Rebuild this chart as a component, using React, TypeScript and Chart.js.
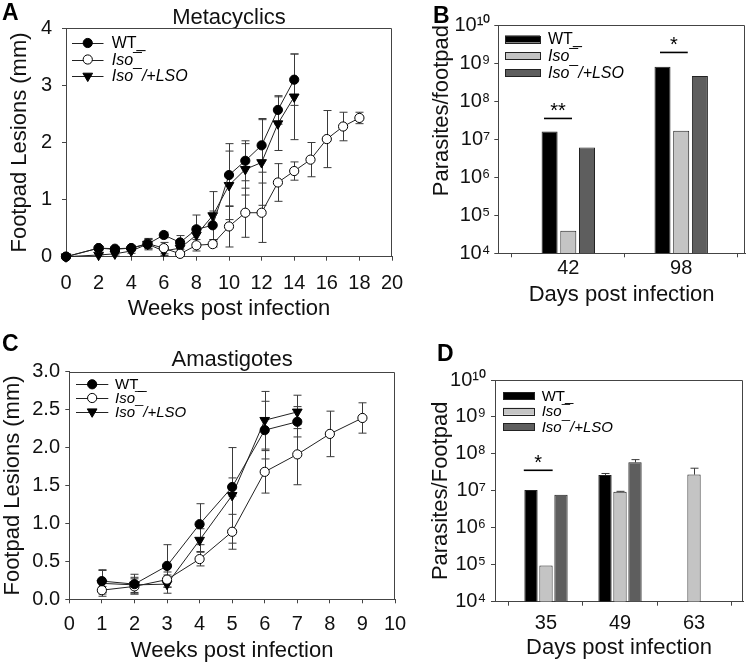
import React, { useEffect, useRef } from 'react';
import { Chart, registerables } from 'chart.js';

Chart.register(...registerables);

const FONT = "'Liberation Sans', Arial, Helvetica, sans-serif";

// ---------- Series labels ----------
const SERIES = ['WT_', 'Iso\u00AF', 'Iso\u00AF/+LSO'];

// ---------- Panel A: Metacyclics (footpad lesions, mm) ----------
const A_TITLE = 'Metacyclics';
const A_X_TITLE = 'Weeks post infection';
const A_Y_TITLE = 'Footpad Lesions (mm)';
const A_WT_WEEKS = [0, 2, 3, 4, 5, 6, 7, 8, 9, 10, 11, 12, 13, 14];
const A_WT_MEAN = [0, 0.15, 0.13, 0.15, 0.22, 0.38, 0.25, 0.48, 0.55, 1.43, 1.68, 1.95, 2.57, 3.1];
const A_WT_ERR = [0, 0.03, 0.03, 0.05, 0.1, 0.05, 0.12, 0.25, 0.25, 0.55, 0.35, 0.47, 0.25, 0.45];
const A_ISO_WEEKS = [0, 2, 3, 4, 5, 6, 7, 8, 9, 10, 11, 12, 13, 14, 15, 16, 17, 18];
const A_ISO_MEAN = [0, 0.15, 0.14, 0.15, 0.23, 0.15, 0.05, 0.2, 0.22, 0.53, 0.77, 0.77, 1.3, 1.5, 1.7, 2.06, 2.28, 2.43];
const A_ISO_ERR = [0, 0.03, 0.03, 0.03, 0.08, 0.1, 0.03, 0.1, 0.05, 0.36, 0.43, 0.52, 0.33, 0.16, 0.3, 0.5, 0.25, 0.1];
const A_LSO_WEEKS = [0, 2, 3, 4, 5, 6, 7, 8, 9, 10, 11, 12, 13, 14];
const A_LSO_MEAN = [0, 0.03, 0.05, 0.1, 0.22, 0.1, 0.15, 0.38, 0.72, 1.25, 1.53, 1.65, 2.33, 2.8];
const A_LSO_ERR = [0, 0.02, 0.02, 0.04, 0.08, 0.08, 0.08, 0.15, 0.42, 0.6, 0.45, 0.75, 0.47, 0.75];

// ---------- Panel B: parasites / footpad (metacyclics) ----------
const B_Y_TITLE = 'Parasites/footpad';
const B_X_TITLE = 'Days post infection';
const B_DAYS = ['42', '98'];
const B_WT = [1.6e7, 8e8];
const B_ISO = [3.9e4, 1.65e7];
const B_LSO = [6e6, 4.6e8];
const B_SIG_LABEL = ['**', '*'];
const B_SIG_FROM = [-0.215, 0.812];
const B_SIG_TO = [0.033, 1.058];
const B_SIG_LEVEL = [3.5e7, 1.9e9];

// ---------- Panel C: Amastigotes ----------
const C_TITLE = 'Amastigotes';
const C_X_TITLE = 'Weeks post infection';
const C_Y_TITLE = 'Footpad Lesions (mm)';
const C_WT_WEEKS = [1, 2, 3, 4, 5, 6, 7];
const C_WT_MEAN = [0.24, 0.2, 0.44, 0.99, 1.48, 2.23, 2.34];
const C_WT_ERR = [0.15, 0.13, 0.28, 0.27, 0.12, 0.38, 0.2];
const C_ISO_WEEKS = [1, 2, 3, 4, 5, 6, 7, 8, 9];
const C_ISO_MEAN = [0.12, 0.17, 0.26, 0.53, 0.89, 1.68, 1.91, 2.18, 2.39];
const C_ISO_ERR = [0.05, 0.1, 0.1, 0.09, 0.23, 0.28, 0.4, 0.3, 0.2];
const C_LSO_WEEKS = [1, 2, 3, 4, 5, 6, 7];
const C_LSO_MEAN = [0.21, 0.19, 0.2, 0.78, 1.37, 2.36, 2.47];
const C_LSO_ERR = [0.17, 0.1, 0.12, 0.15, 0.63, 0.38, 0.22];

// ---------- Panel D: parasites / footpad (amastigotes) ----------
const D_Y_TITLE = 'Parasites/Footpad';
const D_X_TITLE = 'Days post infection';
const D_DAYS = ['35', '49', '63'];
const D_WT = [1.05e7, 2.7e7, null];
const D_WT_ERR = [0, 2.5e6, 0];
const D_ISO = [9.6e4, 9.5e6, 2.75e7];
const D_ISO_ERR = [0, 2e5, 1.35e7];
const D_LSO = [7.9e6, 5.9e7, null];
const D_LSO_ERR = [0, 1.1e7, 0];
const D_SIG_LABEL = ['*'];
const D_SIG_FROM = [-0.3];
const D_SIG_TO = [0.09];
const D_SIG_LEVEL = [3.6e7];

const LOG_TICKS = [1e4, 1e5, 1e6, 1e7, 1e8, 1e9, 1e10];

// ---------- styles ----------
const AXIS_COLOR = '#444';
const TEXT_COLOR = '#111';
const BAR_COLORS = ['#000000', '#c4c4c4', '#5e5e5e'];
const MARKERS = [
  { style: 'circle', fill: '#000', radius: 4.6, rotation: 0 },
  { style: 'circle', fill: '#fff', radius: 4.6, rotation: 0 },
  { style: 'triangle', fill: '#000', radius: 5.6, rotation: 180 },
];

const SUP: Record<string, string> = {
  '0': '\u2070', '1': '\u00B9', '2': '\u00B2', '3': '\u00B3', '4': '\u2074',
  '5': '\u2075', '6': '\u2076', '7': '\u2077', '8': '\u2078', '9': '\u2079',
};
const pow10Label = (v: number) =>
  '10' + String(Math.round(Math.log10(v))).split('').map((c) => SUP[c]).join('');

// ---------- drawing helpers ----------
function drawMarker(ctx: CanvasRenderingContext2D, m: any, x: number, y: number) {
  ctx.save();
  ctx.lineWidth = 1;
  ctx.strokeStyle = '#000';
  ctx.fillStyle = m.fill;
  ctx.beginPath();
  if (m.style === 'circle') {
    ctx.arc(x, y, m.radius, 0, Math.PI * 2);
  } else {
    let rad = Math.PI;
    const r = m.radius;
    ctx.moveTo(x + Math.sin(rad) * r, y - Math.cos(rad) * r);
    rad += (2 * Math.PI) / 3;
    ctx.lineTo(x + Math.sin(rad) * r, y - Math.cos(rad) * r);
    rad += (2 * Math.PI) / 3;
    ctx.lineTo(x + Math.sin(rad) * r, y - Math.cos(rad) * r);
    ctx.closePath();
  }
  ctx.fill();
  ctx.stroke();
  ctx.restore();
}

type Deco = {
  legend: {
    kind: 'line' | 'box';
    dx0: number; dx1: number; textDx: number; dy0: number; step: number;
    boxH?: number; font: number;
  };
  upOnly?: boolean;
  sig?: { label: string[]; from: number[]; to: number[]; level: number[] };
};

function decoPlugin(d: Deco) {
  return {
    id: 'deco',
    beforeDatasetsDraw(chart: any) {
      const ctx = chart.ctx as CanvasRenderingContext2D;
      const ys = chart.scales.y;
      const area = chart.chartArea;
      ctx.save();
      ctx.beginPath();
      ctx.rect(area.left, area.top - 1, area.right - area.left, area.bottom - area.top + 1);
      ctx.clip();
      ctx.strokeStyle = '#3a3a3a';
      ctx.lineWidth = 1;
      chart.data.datasets.forEach((ds: any, di: number) => {
        const errs = ds.errors;
        if (!errs) return;
        const meta = chart.getDatasetMeta(di);
        meta.data.forEach((el: any, i: number) => {
          const raw = ds.data[i];
          const v = raw && typeof raw === 'object' ? raw.y : raw;
          const e = errs[i];
          if (v == null || !e) return;
          const x = Math.round(el.x) + 0.5;
          const yt = ys.getPixelForValue(v + e);
          const yb = d.upOnly ? ys.getPixelForValue(v) : ys.getPixelForValue(Math.max(v - e, 0));
          const cap = 4;
          ctx.beginPath();
          ctx.moveTo(x, yt);
          ctx.lineTo(x, yb);
          ctx.moveTo(x - cap, yt);
          ctx.lineTo(x + cap, yt);
          if (!d.upOnly) {
            ctx.moveTo(x - cap, yb);
            ctx.lineTo(x + cap, yb);
          }
          ctx.stroke();
        });
      });
      ctx.restore();
    },
    afterDraw(chart: any) {
      const ctx = chart.ctx as CanvasRenderingContext2D;
      const a = chart.chartArea;
      // frame (top and right sides)
      ctx.save();
      ctx.strokeStyle = AXIS_COLOR;
      ctx.lineWidth = 1;
      const t = Math.round(a.top) + 0.5;
      const r = Math.round(a.right) - 0.5;
      ctx.beginPath();
      ctx.moveTo(a.left, t);
      ctx.lineTo(r, t);
      ctx.lineTo(r, a.bottom);
      ctx.stroke();
      ctx.restore();

      // legend
      const L = d.legend;
      chart.data.datasets.forEach((ds: any, i: number) => {
        const y = a.top + L.dy0 + i * L.step;
        ctx.save();
        if (L.kind === 'line') {
          ctx.strokeStyle = '#222';
          ctx.lineWidth = 1;
          ctx.beginPath();
          ctx.moveTo(a.left + L.dx0, Math.round(y) + 0.5);
          ctx.lineTo(a.left + L.dx1, Math.round(y) + 0.5);
          ctx.stroke();
          drawMarker(ctx, MARKERS[i], a.left + (L.dx0 + L.dx1) / 2, y);
        } else {
          const h = L.boxH || 7;
          ctx.fillStyle = ds.backgroundColor;
          ctx.strokeStyle = '#222';
          ctx.lineWidth = 1;
          ctx.fillRect(a.left + L.dx0, y - h / 2, L.dx1 - L.dx0, h);
          ctx.strokeRect(Math.round(a.left + L.dx0) + 0.5, Math.round(y - h / 2) + 0.5, Math.round(L.dx1 - L.dx0), Math.round(h));
        }
        ctx.fillStyle = '#000';
        ctx.textBaseline = 'middle';
        ctx.textAlign = 'left';
        ctx.font = `${i > 0 ? 'italic ' : ''}${L.font}px ${FONT}`;
        ctx.fillText(ds.label, a.left + L.textDx, y + 1);
        ctx.restore();
      });

      // significance brackets
      if (d.sig) {
        const xs = chart.scales.x;
        const ys = chart.scales.y;
        d.sig.label.forEach((lab, i) => {
          const x0 = xs.getPixelForValue(d.sig!.from[i]);
          const x1 = xs.getPixelForValue(d.sig!.to[i]);
          const y = ys.getPixelForValue(d.sig!.level[i]);
          ctx.save();
          ctx.strokeStyle = '#000';
          ctx.lineWidth = 1.6;
          ctx.beginPath();
          ctx.moveTo(x0, y);
          ctx.lineTo(x1, y);
          ctx.stroke();
          ctx.fillStyle = '#000';
          ctx.font = `20px ${FONT}`;
          ctx.textAlign = 'center';
          ctx.textBaseline = 'alphabetic';
          ctx.fillText(lab, (x0 + x1) / 2, y - 1.5);
          ctx.restore();
        });
      }
    },
  };
}

function tickFont() {
  return { family: FONT, size: 20, weight: 'normal' };
}
function titleFont() {
  return { family: FONT, size: 22, weight: 'normal' };
}

function lineDataset(i: number, xs: number[], ys: number[], errs: number[]) {
  const m = MARKERS[i];
  return {
    label: SERIES[i],
    data: xs.map((x, k) => ({ x, y: ys[k] })),
    errors: errs,
    borderColor: '#222',
    borderWidth: 1,
    pointStyle: m.style,
    pointRotation: m.rotation,
    pointRadius: m.radius,
    pointBackgroundColor: m.fill,
    pointBorderColor: '#000',
    pointBorderWidth: 1,
    fill: false,
    tension: 0,
    clip: false,
  };
}

function barDataset(i: number, vals: (number | null)[], errs?: number[]) {
  return {
    label: SERIES[i],
    data: vals.map((y, k) => ({ x: k, y })),
    errors: errs,
    backgroundColor: BAR_COLORS[i],
    borderColor: '#222',
    borderWidth: 1,
    borderSkipped: 'bottom',
  };
}

function fixW(w: number) {
  return (s: any) => {
    s.width = w;
  };
}
function fixH(h: number) {
  return (s: any) => {
    s.height = h;
  };
}

type LineOpts = {
  title: string; xTitle: string; yTitle: string;
  titlePad: { top: number; bottom: number };
  padLeft: number; padRight: number; yWidth: number; xHeight: number;
  xMax: number; xStep: number; yMax: number; yStep: number; yDecimals: number;
  xTickPad: number; yTickPad: number;
  legend: Deco['legend'];
  datasets: any[];
};

function lineConfig(o: LineOpts): any {
  return {
    type: 'line',
    data: { datasets: o.datasets },
    plugins: [decoPlugin({ legend: o.legend })],
    options: {
      animation: false,
      responsive: false,
      events: [],
      layout: { padding: { left: o.padLeft, right: o.padRight, top: 0, bottom: 0 } },
      plugins: {
        legend: { display: false },
        tooltip: { enabled: false },
        title: {
          display: true, text: o.title, font: titleFont(), color: TEXT_COLOR,
          padding: o.titlePad, fullSize: false,
        },
      },
      scales: {
        x: {
          type: 'linear', min: 0, max: o.xMax,
          afterFit: fixH(o.xHeight),
          border: { display: true, color: AXIS_COLOR, width: 1 },
          grid: { display: true, drawOnChartArea: false, drawTicks: true, tickLength: 4, color: AXIS_COLOR },
          ticks: { stepSize: o.xStep, font: tickFont(), color: TEXT_COLOR, padding: o.xTickPad, maxRotation: 0, autoSkip: false },
          title: { display: true, text: o.xTitle, font: titleFont(), color: TEXT_COLOR, padding: 0 },
        },
        y: {
          type: 'linear', min: 0, max: o.yMax,
          afterFit: fixW(o.yWidth),
          border: { display: true, color: AXIS_COLOR, width: 1 },
          grid: { display: true, drawOnChartArea: false, drawTicks: true, tickLength: 4, color: AXIS_COLOR },
          ticks: {
            stepSize: o.yStep, font: tickFont(), color: TEXT_COLOR, padding: o.yTickPad,
            callback: (v: number) => v.toFixed(o.yDecimals),
          },
          title: { display: true, text: o.yTitle, font: titleFont(), color: TEXT_COLOR, padding: 0 },
        },
      },
    },
  };
}

type BarOpts = {
  xTitle: string; yTitle: string; yTitleAlign: string;
  cats: string[]; xMin: number; xMax: number;
  padLeft: number; padRight: number; padTop: number; yWidth: number; xHeight: number;
  catPct: number; barPct: number;
  xTickPad: number; yTickPad: number;
  legend: Deco['legend'];
  sig: Deco['sig'];
  upOnly: boolean;
  datasets: any[];
};

function barConfig(o: BarOpts): any {
  return {
    type: 'bar',
    data: { datasets: o.datasets },
    plugins: [decoPlugin({ legend: o.legend, sig: o.sig, upOnly: o.upOnly })],
    options: {
      animation: false,
      responsive: false,
      events: [],
      categoryPercentage: o.catPct,
      barPercentage: o.barPct,
      layout: { padding: { left: o.padLeft, right: o.padRight, top: o.padTop, bottom: 0 } },
      plugins: { legend: { display: false }, tooltip: { enabled: false }, title: { display: false } },
      scales: {
        x: {
          type: 'linear', min: o.xMin, max: o.xMax, offset: false,
          afterFit: fixH(o.xHeight),
          afterBuildTicks: (s: any) => {
            s.ticks = o.cats.map((_, i) => ({ value: i }));
          },
          border: { display: true, color: AXIS_COLOR, width: 1 },
          grid: { display: true, drawOnChartArea: false, drawTicks: true, tickLength: 4, color: AXIS_COLOR },
          ticks: {
            font: tickFont(), color: TEXT_COLOR, padding: o.xTickPad, maxRotation: 0, autoSkip: false,
            callback: (_v: number, i: number) => o.cats[i],
          },
          title: { display: true, text: o.xTitle, font: titleFont(), color: TEXT_COLOR, padding: 0 },
        },
        y: {
          type: 'logarithmic', min: 1e4, max: 1e10,
          afterFit: fixW(o.yWidth),
          afterBuildTicks: (s: any) => {
            s.ticks = LOG_TICKS.map((v) => ({ value: v }));
          },
          border: { display: true, color: AXIS_COLOR, width: 1 },
          grid: { display: true, drawOnChartArea: false, drawTicks: true, tickLength: 4, color: AXIS_COLOR },
          ticks: {
            font: tickFont(), color: TEXT_COLOR, padding: o.yTickPad, autoSkip: false,
            callback: (v: number) => pow10Label(v),
          },
          title: { display: true, text: o.yTitle, font: titleFont(), color: TEXT_COLOR, padding: 0, align: o.yTitleAlign },
        },
      },
    },
  };
}

function ChartBox(props: { left: number; top: number; width: number; height: number; make: () => any }) {
  const ref = useRef<HTMLCanvasElement | null>(null);
  useEffect(() => {
    if (!ref.current) return;
    const chart = new Chart(ref.current, props.make());
    return () => chart.destroy();
  }, []);
  return (
    <canvas
      ref={ref}
      width={props.width}
      height={props.height}
      style={{ position: 'absolute', left: props.left, top: props.top, width: props.width, height: props.height }}
    />
  );
}

const letterStyle = (left: number, top: number): React.CSSProperties => ({
  position: 'absolute', left, top, fontFamily: FONT, fontWeight: 'bold', fontSize: 23,
  lineHeight: '23px', color: '#000',
});

export default function App() {
  return (
    <div style={{ position: 'absolute', left: 0, top: 0, width: 750, height: 665, background: '#fff', overflow: 'hidden' }}>
      <ChartBox
        left={0} top={0} width={415} height={322}
        make={() =>
          lineConfig({
            title: A_TITLE, xTitle: A_X_TITLE, yTitle: A_Y_TITLE,
            titlePad: { top: 4.3, bottom: -2.4 },
            padLeft: 7, padRight: 23, yWidth: 59, xHeight: 65.3,
            xMax: 20, xStep: 2, yMax: 4, yStep: 1, yDecimals: 0,
            xTickPad: 10.3, yTickPad: 10,
            legend: { kind: 'line', dx0: 6, dx1: 37.5, textDx: 45.7, dy0: 14.7, step: 16.5, font: 16 },
            datasets: [
              lineDataset(0, A_WT_WEEKS, A_WT_MEAN, A_WT_ERR),
              lineDataset(1, A_ISO_WEEKS, A_ISO_MEAN, A_ISO_ERR),
              lineDataset(2, A_LSO_WEEKS, A_LSO_MEAN, A_LSO_ERR),
            ],
          })
        }
      />
      <ChartBox
        left={400} top={0} width={350} height={308}
        make={() =>
          barConfig({
            xTitle: B_X_TITLE, yTitle: B_Y_TITLE, yTitleAlign: 'end',
            cats: B_DAYS, xMin: -0.62, xMax: 1.565,
            padLeft: 28.5, padRight: 5, padTop: 25, yWidth: 69.8, xHeight: 54.7,
            catPct: 0.497, barPct: 0.856,
            xTickPad: -1, yTickPad: 4,
            legend: { kind: 'box', dx0: 6.7, dx1: 41.7, textDx: 49.7, dy0: 14, step: 16.8, boxH: 7, font: 16 },
            sig: { label: B_SIG_LABEL, from: B_SIG_FROM, to: B_SIG_TO, level: B_SIG_LEVEL },
            upOnly: true,
            datasets: [barDataset(0, B_WT), barDataset(1, B_ISO), barDataset(2, B_LSO)],
          })
        }
      />
      <ChartBox
        left={0} top={340} width={420} height={324}
        make={() =>
          lineConfig({
            title: C_TITLE, xTitle: C_X_TITLE, yTitle: C_Y_TITLE,
            titlePad: { top: 6.8, bottom: -1.5 },
            padLeft: 0, padRight: 25, yWidth: 69.3, xHeight: 64.7,
            xMax: 10, xStep: 1, yMax: 3, yStep: 0.5, yDecimals: 1,
            xTickPad: 8.7, yTickPad: 5.3,
            legend: { kind: 'line', dx0: 6.7, dx1: 39, textDx: 45.7, dy0: 12.6, step: 13.7, font: 15 },
            datasets: [
              lineDataset(0, C_WT_WEEKS, C_WT_MEAN, C_WT_ERR),
              lineDataset(1, C_ISO_WEEKS, C_ISO_MEAN, C_ISO_ERR),
              lineDataset(2, C_LSO_WEEKS, C_LSO_MEAN, C_LSO_ERR),
            ],
          })
        }
      />
      <ChartBox
        left={400} top={340} width={350} height={321}
        make={() =>
          barConfig({
            xTitle: D_X_TITLE, yTitle: D_Y_TITLE, yTitleAlign: 'center',
            cats: D_DAYS, xMin: -0.689, xMax: 2.662,
            padLeft: 27.4, padRight: 7, padTop: 40, yWidth: 67.6, xHeight: 59.3,
            catPct: 0.608, barPct: 0.887,
            xTickPad: 5.3, yTickPad: 5,
            legend: { kind: 'box', dx0: 8, dx1: 39, textDx: 46.7, dy0: 15.7, step: 15.5, boxH: 7, font: 15 },
            sig: { label: D_SIG_LABEL, from: D_SIG_FROM, to: D_SIG_TO, level: D_SIG_LEVEL },
            upOnly: true,
            datasets: [barDataset(0, D_WT, D_WT_ERR), barDataset(1, D_ISO, D_ISO_ERR), barDataset(2, D_LSO, D_LSO_ERR)],
          })
        }
      />
      <div style={letterStyle(2, 1)}>A</div>
      <div style={letterStyle(433, 4)}>B</div>
      <div style={letterStyle(2, 332)}>C</div>
      <div style={letterStyle(437, 342)}>D</div>
    </div>
  );
}
